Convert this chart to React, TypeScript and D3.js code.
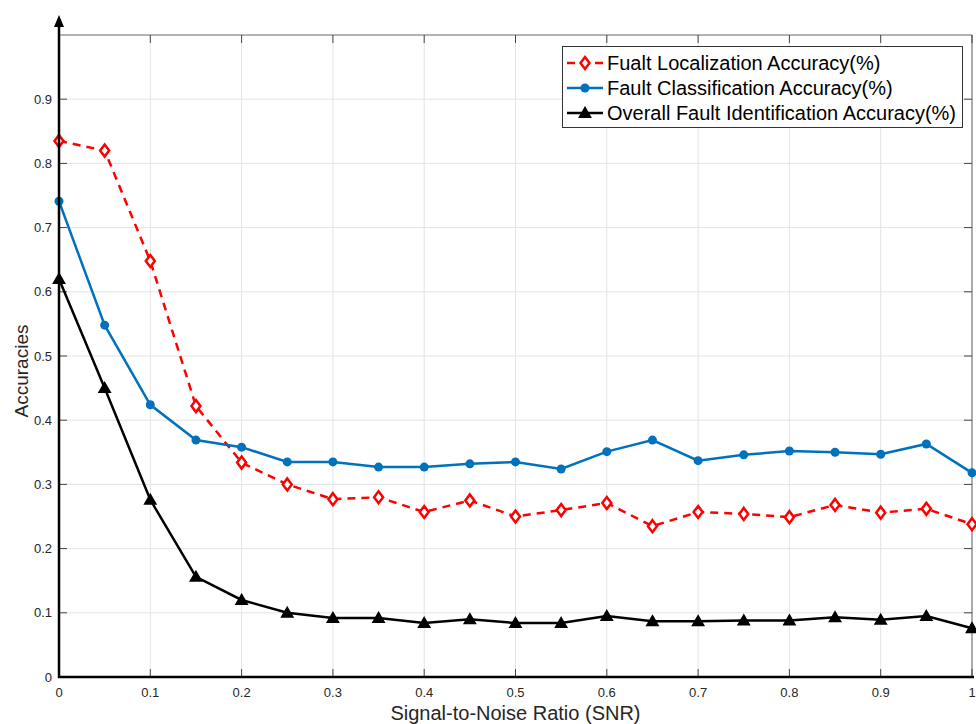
import React from "react";
import * as d3 from "d3";

const snr = [0, 0.05, 0.1, 0.15, 0.2, 0.25, 0.3, 0.35, 0.4, 0.45, 0.5, 0.55, 0.6, 0.65, 0.7, 0.75, 0.8, 0.85, 0.9, 0.95, 1];
const localization = [0.835, 0.82, 0.648, 0.422, 0.334, 0.3, 0.277, 0.28, 0.257, 0.275, 0.25, 0.26, 0.271, 0.235, 0.257, 0.254, 0.249, 0.268, 0.256, 0.262, 0.238];
const classification = [0.741, 0.548, 0.424, 0.369, 0.358, 0.335, 0.335, 0.327, 0.327, 0.332, 0.335, 0.324, 0.351, 0.369, 0.337, 0.346, 0.352, 0.35, 0.347, 0.363, 0.318];
const overall = [0.62, 0.45, 0.276, 0.156, 0.12, 0.1, 0.092, 0.092, 0.084, 0.09, 0.084, 0.084, 0.095, 0.087, 0.087, 0.088, 0.088, 0.093, 0.089, 0.095, 0.076];
const xTicks = [0, 0.1, 0.2, 0.3, 0.4, 0.5, 0.6, 0.7, 0.8, 0.9, 1];
const yTicks = [0, 0.1, 0.2, 0.3, 0.4, 0.5, 0.6, 0.7, 0.8, 0.9];
const legendLabels = [
  "Fualt Localization Accuracy(%)",
  "Fault Classification Accuracy(%)",
  "Overall Fault Identification Accuracy(%)",
];

const width = 976;
const height = 724;
const left = 59;
const right = 972;
const top = 35;
const bottom = 677;
const font = "Liberation Sans, Arial, sans-serif";

const App = () => {
  const x = d3.scaleLinear().domain([0, 1]).range([left, right]);
  const y = d3.scaleLinear().domain([0, 1]).range([bottom, top]);

  const line = d3
    .line<number>()
    .x((_, i) => x(snr[i]))
    .y((d) => y(d));

  const diamond = "M0,-6L4.5,0L0,6L-4.5,0Z";
  const triangle = d3.symbol(d3.symbolTriangle, 55)();

  const series = [
    { values: localization, color: "#ff0000", dash: "8,6", marker: "diamond" },
    { values: classification, color: "#0072bd", dash: null, marker: "circle" },
    { values: overall, color: "#000000", dash: null, marker: "triangle" },
  ];

  const drawMarker = (kind: string, color: string, cx: number, cy: number, key: string | number) => {
    if (kind === "diamond")
      return (
        <path key={key} d={diamond} transform={`translate(${cx},${cy})`} fill="white" stroke={color} strokeWidth={2.5} />
      );
    if (kind === "circle") return <circle key={key} cx={cx} cy={cy} r={4.5} fill={color} />;
    return (
      <path key={key} d={triangle as string} transform={`translate(${cx},${cy + 1})`} fill={color} stroke={color} strokeWidth={1.5} />
    );
  };

  return (
    <svg width={width} height={height} style={{ position: "absolute", left: 0, top: 0, background: "white" }}>
      <rect x={0} y={0} width={width} height={height} fill="white" />
      {/* grid */}
      {xTicks.map((t) => (
        <line key={"gx" + t} x1={x(t)} x2={x(t)} y1={top} y2={bottom} stroke="#e3e3e3" strokeWidth={1} />
      ))}
      {yTicks.map((t) => (
        <line key={"gy" + t} x1={left} x2={right} y1={y(t)} y2={y(t)} stroke="#e3e3e3" strokeWidth={1} />
      ))}
      {/* box top and right */}
      <line x1={left} x2={right} y1={top} y2={top} stroke="#666" strokeWidth={1} />
      <line x1={right} x2={right} y1={top} y2={bottom} stroke="#666" strokeWidth={1} />
      {xTicks.map((t) => (
        <g key={"tx" + t}>
          <line x1={x(t)} x2={x(t)} y1={bottom} y2={bottom - 8} stroke="#444" />
          <line x1={x(t)} x2={x(t)} y1={top} y2={top + 8} stroke="#444" />
          <text x={x(t)} y={697} textAnchor="middle" fontSize={13} fill="#262626" fontFamily={font}>
            {t}
          </text>
        </g>
      ))}
      {yTicks.map((t) => (
        <g key={"ty" + t}>
          <line x1={left} x2={left + 8} y1={y(t)} y2={y(t)} stroke="#444" />
          <line x1={right} x2={right - 8} y1={y(t)} y2={y(t)} stroke="#444" />
          <text x={52} y={y(t) + 4.5} textAnchor="end" fontSize={13} fill="#262626" fontFamily={font}>
            {t}
          </text>
        </g>
      ))}
      {/* series */}
      {series.map((s, si) => (
        <g key={"s" + si}>
          <path
            d={line(s.values) as string}
            fill="none"
            stroke={s.color}
            strokeWidth={2.5}
            strokeDasharray={s.dash ?? undefined}
          />
          {s.values.map((v, i) => drawMarker(s.marker, s.color, x(snr[i]), y(v), i))}
        </g>
      ))}
      {/* main axes */}
      <line x1={left} x2={left} y1={bottom + 1} y2={22} stroke="black" strokeWidth={2.5} />
      <path d={`M${left - 5},${27} L${left},${15} L${left + 5},${27} Z`} fill="black" />
      <line x1={left - 1} x2={right + 2} y1={bottom} y2={bottom} stroke="black" strokeWidth={2.5} />
      {/* axis labels */}
      <text x={(left + right) / 2} y={720} textAnchor="middle" fontSize={20} fill="#262626" fontFamily={font}>
        Signal-to-Noise Ratio (SNR)
      </text>
      <text
        transform={`translate(28,371) rotate(-90)`}
        textAnchor="middle"
        fontSize={19}
        fill="#262626"
        fontFamily={font}
      >
        Accuracies
      </text>
      {/* legend */}
      <rect x={562.5} y={46.5} width={400} height={81} fill="white" stroke="#333" strokeWidth={1} />
      {series.map((s, i) => {
        const ly = 63 + i * 25;
        return (
          <g key={"lg" + i}>
            <line x1={567} x2={603} y1={ly} y2={ly} stroke={s.color} strokeWidth={2.5} strokeDasharray={s.dash ?? undefined} />
            {drawMarker(s.marker, s.color, 585, ly, "m")}
            <text x={607} y={ly + 7} fontSize={20} fill="black" fontFamily={font}>
              {legendLabels[i]}
            </text>
          </g>
        );
      })}
    </svg>
  );
};

export default App;
